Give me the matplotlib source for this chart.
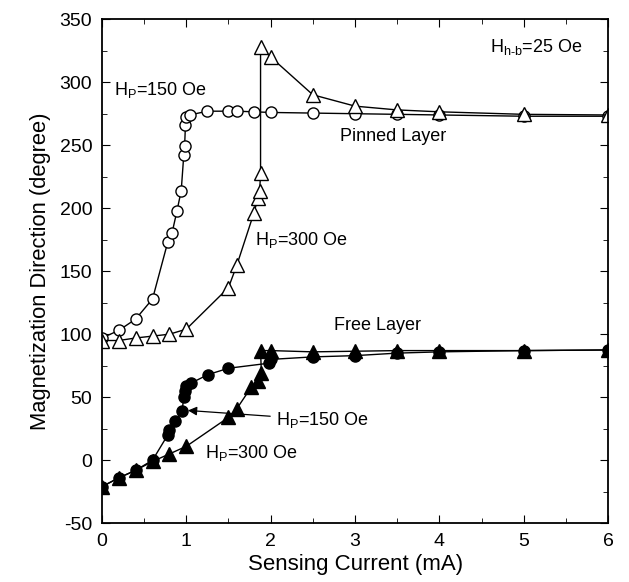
import matplotlib
matplotlib.use("Agg")
import matplotlib.pyplot as plt
from matplotlib.ticker import MultipleLocator

plt.rcParams['font.family'] = ['Liberation Sans', 'DejaVu Sans']
plt.rcParams['mathtext.default'] = 'regular'
plt.rcParams['axes.unicode_minus'] = False

# Pinned layer, H_P = 150 Oe (open circles)
pin150_x = [0.0, 0.2, 0.4, 0.6, 0.78, 0.83, 0.89, 0.94, 0.97, 0.98, 0.99, 1.0, 1.04,
            1.25, 1.5, 1.6, 1.8, 2.0, 2.5, 3.0, 3.5, 4.0, 5.0, 6.0]
pin150_y = [97, 103, 112, 128, 173, 180, 198, 214, 242, 249, 266, 272, 274,
            277, 277, 277, 276.5, 276, 275.5, 275, 274.5, 274, 273, 273]

# Pinned layer, H_P = 300 Oe (open triangles)
pin300_x = [0.0, 0.2, 0.4, 0.6, 0.8, 1.0, 1.5, 1.6, 1.8, 1.85, 1.87, 1.88,
            1.88, 2.0, 2.5, 3.0, 3.5, 4.0, 5.0, 6.0]
pin300_y = [95, 95, 97, 98.5, 100, 104, 137, 155, 196, 208, 214, 228,
            328, 320, 290, 281, 278, 276.5, 274.5, 274]

# Free layer, H_P = 150 Oe (filled circles)
free150_x = [0.0, 0.2, 0.4, 0.6, 0.78, 0.8, 0.87, 0.95, 0.97, 0.98, 1.0, 1.05,
             1.26, 1.5, 1.98, 2.0, 2.5, 3.0, 3.5, 4.0, 5.0, 6.0]
free150_y = [-21, -14, -8, 0, 20, 24, 31, 39, 50, 55, 59, 61,
             68, 73, 77, 80, 82, 83, 85, 86, 87, 87.5]

# Free layer, H_P = 300 Oe (filled triangles)
free300_x = [0.0, 0.2, 0.4, 0.6, 0.8, 1.0, 1.5, 1.6, 1.77, 1.85, 1.89,
             1.88, 2.0, 2.5, 3.0, 3.5, 4.0, 5.0, 6.0]
free300_y = [-21, -14, -8, -1, 5, 11, 34, 41, 58, 63, 69,
             87, 87, 86, 86.5, 87, 87, 87, 87.5]

fig = plt.figure(figsize=(6.29, 5.82), dpi=100)
ax = fig.add_axes([0.162, 0.101, 0.805, 0.866])

ms = 8
ax.plot(pin150_x, pin150_y, '-o', color='black', lw=1, ms=ms, mfc='white', mec='black', mew=1)
ax.plot(pin300_x, pin300_y, '-^', color='black', lw=1, ms=ms + 1.5, mfc='white', mec='black', mew=1)
ax.plot(free150_x, free150_y, '-o', color='black', lw=1, ms=ms, mfc='black', mec='black')
ax.plot(free300_x, free300_y, '-^', color='black', lw=1, ms=ms + 1.5, mfc='black', mec='black')

ax.set_xlim(0, 6)
ax.set_ylim(-50, 350)
ax.xaxis.set_major_locator(MultipleLocator(1))
ax.xaxis.set_minor_locator(MultipleLocator(0.5))
ax.yaxis.set_major_locator(MultipleLocator(50))
ax.yaxis.set_minor_locator(MultipleLocator(25))
ax.tick_params(which='both', direction='in', top=True, right=True, labelsize=14)
ax.tick_params(which='major', length=6)
ax.tick_params(which='minor', length=3.5)
ax.tick_params(axis='x', which='major', pad=7)
ax.tick_params(axis='y', which='major', pad=7)
for s in ax.spines.values():
    s.set_linewidth(1.3)

ax.set_xlabel('Sensing Current (mA)', fontsize=16, labelpad=3)
ax.set_ylabel('Magnetization Direction (degree)', fontsize=15.8, labelpad=6)

fs = 13
ax.text(0.14, 294, 'H$_P$=150 Oe', fontsize=fs, va='center')
ax.text(4.6, 328, 'H$_{h\u2011b}$=25 Oe', fontsize=fs, va='center')
ax.text(2.82, 257, 'Pinned Layer', fontsize=fs, va='center')
ax.text(1.82, 175, 'H$_P$=300 Oe', fontsize=fs, va='center')
ax.text(2.75, 107, 'Free Layer', fontsize=fs, va='center')
ax.annotate('H$_P$=150 Oe', xy=(1.02, 39.5), xytext=(2.06, 32), fontsize=fs, va='center',
            arrowprops=dict(arrowstyle='-|>', color='black', lw=0.9, shrinkA=2, shrinkB=0))
ax.text(1.22, 6, 'H$_P$=300 Oe', fontsize=fs, va='center')

fig.savefig('out.png', dpi=100)
